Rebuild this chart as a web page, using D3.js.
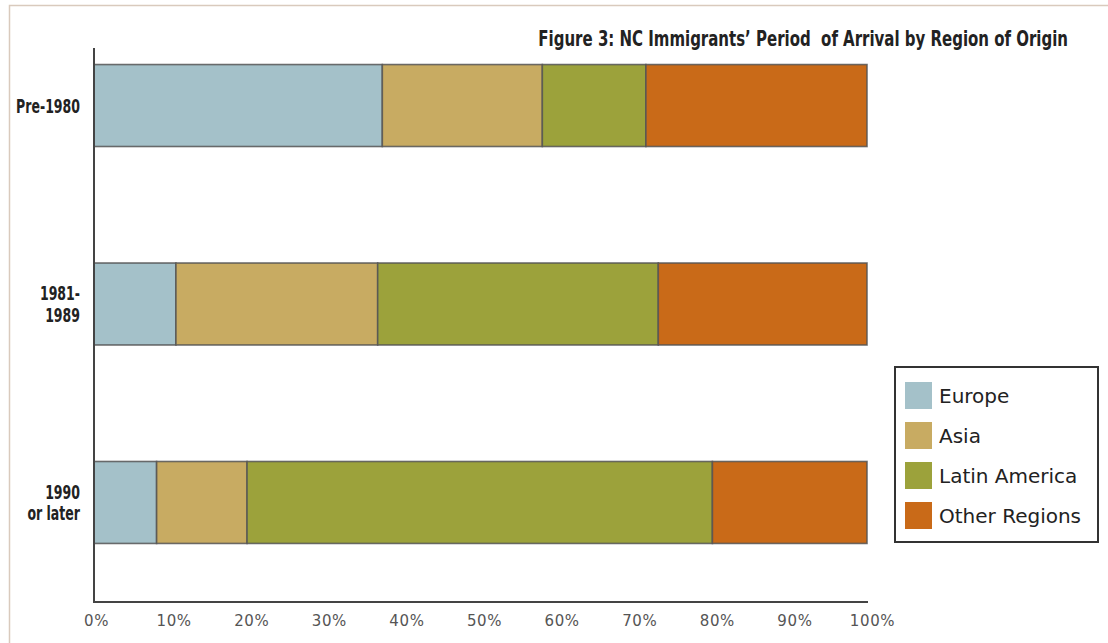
<!DOCTYPE html>
<html>
<head>
<meta charset="utf-8">
<script src="https://cdn.jsdelivr.net/npm/d3@7"></script>
<style>
  html, body { margin: 0; padding: 0; background: #fff; }
  svg { display: block; }
</style>
</head>
<body>
<svg id="chart" width="1108" height="643"></svg>
<script>
const titleText = "Figure 3: NC Immigrants\u2019 Period  of Arrival by Region of Origin";
const periods = ["Pre-1980", "1981-1989", "1990 or later"];
const periodLines = [["Pre-1980"], ["1981-", "1989"], ["1990", "or later"]];
const regions = ["Europe", "Asia", "Latin America", "Other Regions"];
const europe = [37.3, 10.6, 8.1];
const asia = [20.7, 26.1, 11.7];
const latinAmerica = [13.4, 36.3, 60.2];
const otherRegions = [28.6, 27.0, 20.0];
const tickValues = [0, 10, 20, 30, 40, 50, 60, 70, 80, 90, 100];
const colors = ["#a4c1c9", "#c8ab62", "#9ca23b", "#c96a18"];

const seriesValues = [europe, asia, latinAmerica, otherRegions];
const table = periods.map((p, i) => {
  const row = { period: p };
  regions.forEach((r, j) => row[r] = seriesValues[j][i]);
  return row;
});

const svg = d3.select("#chart");
const condensed = "Liberation Sans Narrow, DejaVu Sans Condensed, sans-serif";

// page border (top and left)
svg.append("path")
  .attr("d", "M9.5,643 V5.5 H1108")
  .attr("fill", "none").attr("stroke", "#d9cabd").attr("stroke-width", 1.5);

const x = d3.scaleLinear().domain([0, 100]).range([94, 867]);
const y = d3.scaleBand().domain(periods).range([5, 603]).paddingInner(0.587).paddingOuter(0.3);
const color = d3.scaleOrdinal().domain(regions).range(colors);

const stacked = d3.stack().keys(regions)(table);

const g = svg.append("g");
g.selectAll("g.series").data(stacked).join("g")
  .attr("class", "series")
  .attr("fill", d => color(d.key))
  .selectAll("rect").data(d => d).join("rect")
  .attr("x", d => x(d[0]))
  .attr("y", d => y(d.data.period))
  .attr("width", d => x(d[1]) - x(d[0]))
  .attr("height", y.bandwidth())
  .attr("stroke", "#555")
  .attr("stroke-opacity", 0.85)
  .attr("stroke-width", 1.6);

// axes lines
svg.append("line").attr("x1", 94).attr("x2", 94).attr("y1", 48).attr("y2", 603)
  .attr("stroke", "#444").attr("stroke-width", 2);
svg.append("line").attr("x1", 93).attr("x2", 868).attr("y1", 602).attr("y2", 602)
  .attr("stroke", "#444").attr("stroke-width", 2);

// x axis labels
const xAxis = d3.axisBottom(x).tickValues(tickValues).tickSize(0).tickFormat(d => d + "%");
const xg = svg.append("g").attr("transform", "translate(0,612)").call(xAxis);
xg.select(".domain").remove();
xg.selectAll("text")
  .attr("dx", d => 2 + d * 0.03)
  .attr("font-family", "DejaVu Sans, Verdana, sans-serif")
  .attr("font-size", 15)
  .attr("fill", "#555")
  .attr("letter-spacing", 0.6);

// y labels (condensed by horizontal scaling to match the narrow face)
const yLab = svg.append("g");
const labelTexts = [];
periods.forEach((p, i) => {
  const lines = periodLines[i];
  const cy = y(p) + y.bandwidth() / 2;
  const lh = 21.5;
  const t = yLab.append("text")
    .attr("text-anchor", "end")
    .attr("font-family", condensed)
    .attr("font-weight", "bold")
    .attr("font-size", 20)
    .attr("fill", "#222");
  lines.forEach((ln, k) => {
    t.append("tspan").attr("x", 0)
      .attr("y", cy + 7 + (k - (lines.length - 1) / 2) * lh)
      .text(ln);
  });
  labelTexts.push(t);
});
const refW = labelTexts[0].node().getBBox().width;
const fy = Math.min(1, 64 / refW);
labelTexts.forEach(t => t.attr("transform", `translate(80,0) scale(${fy},1)`));

// title
const title = svg.append("text")
  .attr("x", 0).attr("y", 46)
  .attr("text-anchor", "end")
  .attr("font-family", condensed)
  .attr("font-weight", "bold")
  .attr("font-size", 22)
  .attr("fill", "#222")
  .style("white-space", "pre")
  .text(titleText);
const tw = title.node().getBBox().width;
const ft = Math.min(1, 530 / tw);
title.attr("transform", `translate(1068,0) scale(${ft},1)`);

// legend
const lg = svg.append("g");
lg.append("rect").attr("x", 895).attr("y", 367).attr("width", 203).attr("height", 175)
  .attr("fill", "#fff").attr("stroke", "#333").attr("stroke-width", 2);
regions.forEach((r, i) => {
  lg.append("rect").attr("x", 905).attr("y", 382 + i * 40).attr("width", 27).attr("height", 27)
    .attr("fill", color(r));
  lg.append("text").attr("x", 939).attr("y", 403 + i * 40)
    .attr("font-family", "DejaVu Sans, Verdana, sans-serif")
    .attr("font-size", 20)
    .attr("fill", "#222")
    .text(r);
});
</script>
</body>
</html>
